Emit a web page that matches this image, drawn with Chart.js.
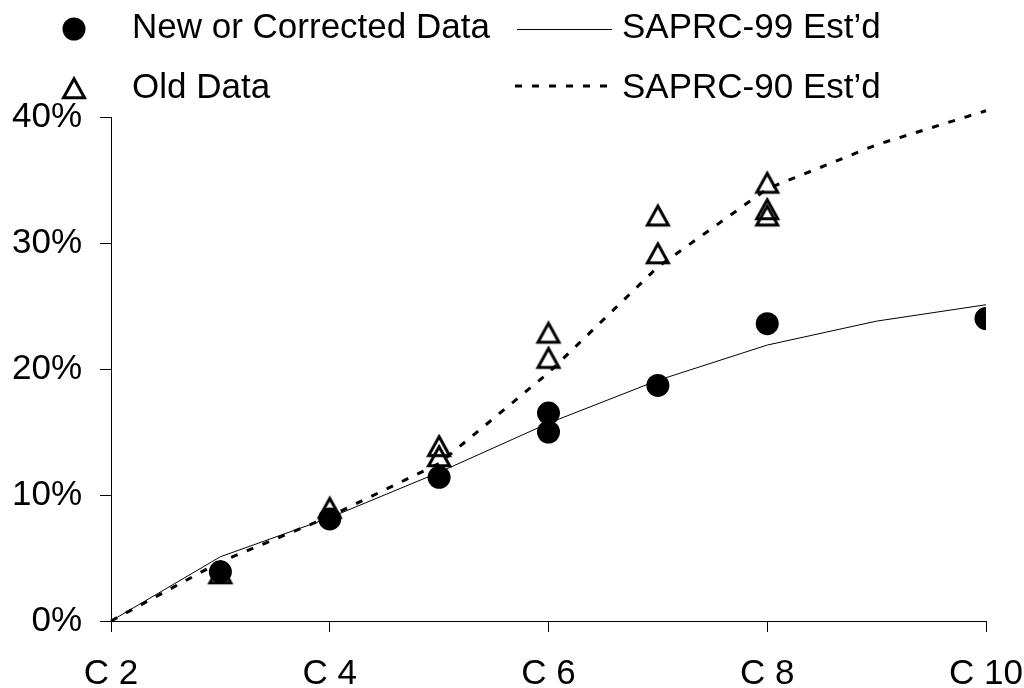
<!DOCTYPE html>
<html>
<head>
<meta charset="utf-8">
<script src="https://cdn.jsdelivr.net/npm/chart.js@4.4.0/dist/chart.umd.min.js"></script>
<style>
  html, body { margin: 0; padding: 0; background: #fff; }
</style>
</head>
<body>
<canvas id="chart" width="1024" height="688"></canvas>
<script>
// carbon number of the model lines
const lineX = [2, 3, 4, 5, 6, 7, 8, 9, 10];
const saprc99 = [0, 5.1, 8.2, 11.8, 15.7, 19.1, 21.9, 23.8, 25.1];
const saprc90 = [0, 4.7, 8.3, 12.5, 19.7, 28.1, 34.3, 37.8, 40.5];

// measured points
const newX = [3, 4, 5, 6, 6, 7, 8, 10];
const newY = [3.9, 8.1, 11.4, 16.5, 15.0, 18.7, 23.6, 24.0];
const oldX = [3, 4, 5, 5, 6, 6, 7, 7, 8, 8, 8];
const oldY = [3.8, 9.0, 13.9, 13.1, 22.9, 20.9, 32.2, 29.2, 34.8, 32.7, 32.2];

const xTicks = [2, 4, 6, 8, 10];
const xTickLabels = ['C 2', 'C 4', 'C 6', 'C 8', 'C 10'];
const yTicks = [0, 10, 20, 30, 40];
const yTickLabels = ['0%', '10%', '20%', '30%', '40%'];

const FONT = '"Liberation Sans", Arial, sans-serif';

function pts(xs, ys) {
    return xs.map((x, i) => ({ x: x, y: ys[i] }));
}

// open triangle marker, centred in its own little canvas
const tri = document.createElement('canvas');
tri.width = 32;
tri.height = 32;
(function () {
    const c = tri.getContext('2d');
    c.strokeStyle = '#000';
    c.lineWidth = 3;
    c.lineJoin = 'miter';
    c.beginPath();
    c.moveTo(16, 6.8);
    c.lineTo(26.5, 25.8);
    c.lineTo(5.5, 25.8);
    c.closePath();
    c.stroke();
})();

const legendBoxes = {
    id: 'legendBoxes',
    afterDraw(chart) {
        const ctx = chart.ctx;
        ctx.save();
        ctx.fillStyle = '#000';
        ctx.strokeStyle = '#000';
        ctx.font = '35px ' + FONT;
        ctx.textBaseline = 'alphabetic';
        ctx.textAlign = 'left';

        // row 1
        ctx.beginPath();
        ctx.arc(74, 29, 11.5, 0, Math.PI * 2);
        ctx.fill();
        ctx.fillText('New or Corrected Data', 132, 38);
        ctx.lineWidth = 1;
        ctx.beginPath();
        ctx.moveTo(517, 29.5);
        ctx.lineTo(612, 29.5);
        ctx.stroke();
        ctx.fillText('SAPRC-99 Est\u2019d', 622, 38);

        // row 2
        ctx.drawImage(tri, 74 - 16, 88 - 16);
        ctx.fillText('Old Data', 132, 98);
        ctx.lineWidth = 3;
        ctx.setLineDash([7, 10]);
        ctx.beginPath();
        ctx.moveTo(515, 86);
        ctx.lineTo(607, 86);
        ctx.stroke();
        ctx.setLineDash([]);
        ctx.fillText('SAPRC-90 Est\u2019d', 622, 98);
        ctx.restore();
    }
};

new Chart(document.getElementById('chart'), {
    type: 'scatter',
    data: {
        datasets: [
            {
                label: 'New or Corrected Data',
                data: pts(newX, newY),
                pointStyle: 'circle',
                pointRadius: 11.5,
                backgroundColor: '#000',
                borderColor: '#000',
                borderWidth: 0,
                order: 0
            },
            {
                label: 'Old Data',
                data: pts(oldX, oldY),
                pointStyle: tri,
                order: 1
            },
            {
                label: 'SAPRC-99 Est\u2019d',
                data: pts(lineX, saprc99),
                showLine: true,
                borderColor: '#000',
                borderWidth: 1,
                pointRadius: 0,
                tension: 0,
                clip: false,
                order: 2
            },
            {
                label: 'SAPRC-90 Est\u2019d',
                data: pts(lineX, saprc90),
                showLine: true,
                borderColor: '#000',
                borderWidth: 3,
                borderDash: [7, 10],
                pointRadius: 0,
                tension: 0,
                clip: false,
                order: 3
            }
        ]
    },
    options: {
        responsive: false,
        animation: false,
        layout: { padding: { top: 117, right: 38, left: 0, bottom: 0 } },
        plugins: {
            legend: { display: false },
            tooltip: { enabled: false },
            title: { display: false }
        },
        scales: {
            x: {
                type: 'linear',
                min: 2,
                max: 10,
                afterBuildTicks: (s) => { s.ticks = xTicks.map(v => ({ value: v })); },
                afterFit: (s) => {
                    s.height = 67;
                    s.paddingLeft = 0;
                    s.paddingRight = 0;
                },
                ticks: {
                    color: '#000',
                    font: { family: FONT, size: 35 },
                    padding: 21,
                    maxRotation: 0,
                    callback: (v) => xTickLabels[xTicks.indexOf(v)]
                },
                grid: { drawOnChartArea: false, color: '#000', tickLength: 11 },
                border: { color: '#000', width: 1 }
            },
            y: {
                type: 'linear',
                min: 0,
                max: 40,
                afterBuildTicks: (s) => { s.ticks = yTicks.map(v => ({ value: v })); },
                afterFit: (s) => {
                    s.width = 111;
                    s.paddingTop = 0;
                    s.paddingBottom = 0;
                },
                ticks: {
                    color: '#000',
                    font: { family: FONT, size: 35 },
                    padding: 18,
                    callback: (v) => yTickLabels[yTicks.indexOf(v)]
                },
                grid: { drawOnChartArea: false, color: '#000', tickLength: 11 },
                border: { color: '#000', width: 1 }
            }
        }
    },
    plugins: [legendBoxes]
});
</script>
</body>
</html>
